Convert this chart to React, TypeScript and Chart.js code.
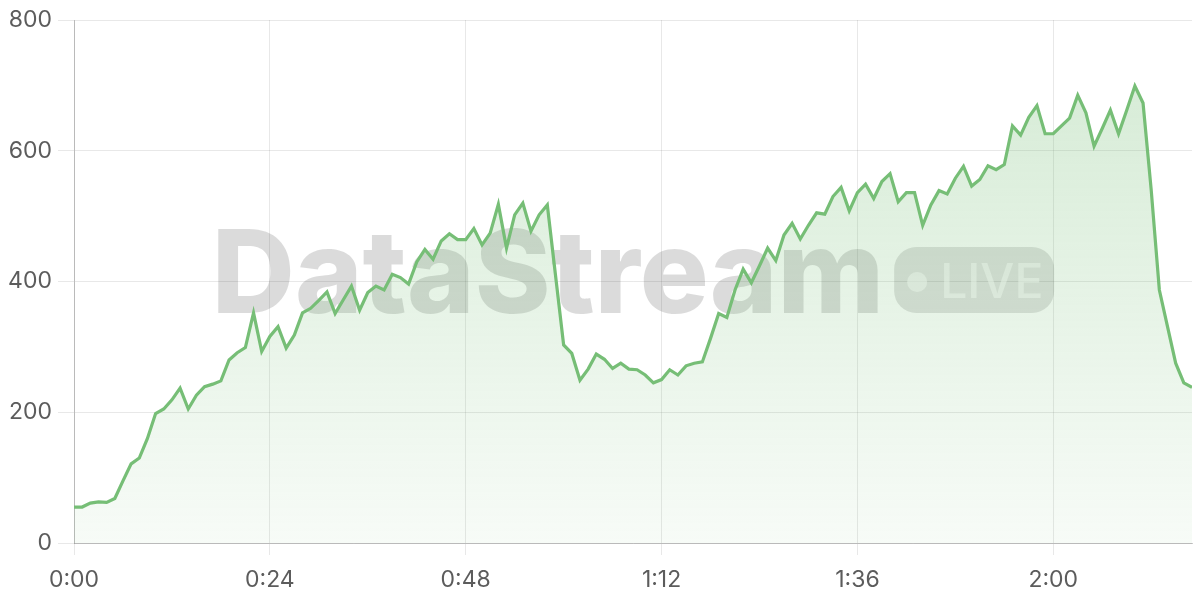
import React, { useEffect, useRef } from "react";
import { Chart, registerables } from "chart.js";

Chart.register(...registerables);

// Throughput values, one per minute from 0:00 to 2:17
const VALUES: number[] = [
  55, 55, 61, 63, 62, 68, 95, 121, 130, 160,
  198, 205, 219, 237, 205, 226, 239, 243, 248, 280,
  291, 299, 352, 293, 316, 331, 298, 318, 352, 359,
  371, 384, 351, 372, 393, 356, 383, 393, 387, 411,
  406, 396, 430, 449, 434, 462, 473, 464, 464, 481,
  456, 474, 518, 451, 502, 520, 477, 502, 517, 410,
  303, 290, 249, 266, 289, 281, 267, 275, 266, 265,
  257, 245, 250, 265, 257, 271, 275, 277, 313, 351,
  345, 387, 419, 398, 424, 451, 432, 471, 489, 465,
  486, 505, 503, 530, 544, 508, 536, 549, 527, 553,
  565, 522, 536, 536, 486, 517, 539, 534, 558, 576,
  546, 556, 577, 571, 579, 638, 624, 651, 669, 626,
  626, 638, 650, 685, 658, 607, 634, 662, 626, 662,
  699, 673, 540, 387, 331, 275, 245, 238,
];

const X_TICK_MINUTES: number[] = [0, 24, 48, 72, 96, 120];
const X_TICK_LABELS: string[] = ["0:00", "0:24", "0:48", "1:12", "1:36", "2:00"];
const Y_MIN = 0;
const Y_MAX = 800;
const Y_STEP = 200;

const WATERMARK_TEXT = "DataStream";
const BADGE_TEXT = "LIVE";

const LINE_COLOR = "rgb(118,190,118)";

const watermarkPlugin = {
  id: "watermark",
  beforeDatasetsDraw(chart: any) {
    const { ctx, chartArea } = chart;
    ctx.save();
    const cx = (chartArea.left + chartArea.right) / 2;
    const baseline = chartArea.top + 293;
    ctx.font = "800 115px Inter";
    ctx.textBaseline = "alphabetic";
    ctx.textAlign = "left";
    const tw = ctx.measureText(WATERMARK_TEXT).width;
    const gap = 10;
    const pillW = 160;
    const pillH = 66;
    const total = tw + gap + pillW;
    const x0 = cx - total / 2;
    ctx.fillStyle = "rgba(0,0,0,0.14)";
    ctx.fillText(WATERMARK_TEXT, x0, baseline);
    const px = x0 + tw + gap;
    ctx.beginPath();
    ctx.roundRect(px, baseline - pillH, pillW, pillH, 22);
    ctx.fillStyle = "rgba(0,0,0,0.12)";
    ctx.fill();
    ctx.fillStyle = "rgba(255,255,255,0.55)";
    ctx.beginPath();
    ctx.arc(px + 23, baseline - 31, 10, 0, Math.PI * 2);
    ctx.fill();
    ctx.font = "500 48px Inter";
    ctx.fillText(BADGE_TEXT, px + 46, baseline - 15);
    ctx.restore();
  },
};

export default function App() {
  const canvasRef = useRef<HTMLCanvasElement | null>(null);

  useEffect(() => {
    const canvas = canvasRef.current;
    if (!canvas) return;
    const points = VALUES.map((v, i) => ({ x: i, y: v }));
    const chart = new Chart(canvas, {
      type: "line",
      data: {
        datasets: [
          {
            data: points,
            borderColor: LINE_COLOR,
            borderWidth: 3.2,
            pointRadius: 0,
            tension: 0,
            fill: "origin",
            backgroundColor: (c: any) => {
              const area = c.chart.chartArea;
              if (!area) return "rgba(118,190,118,0.15)";
              const g = c.chart.ctx.createLinearGradient(0, area.top, 0, area.bottom);
              g.addColorStop(0, "rgba(118,190,118,0.32)");
              g.addColorStop(1, "rgba(118,190,118,0.06)");
              return g;
            },
          },
        ],
      },
      options: {
        responsive: false,
        animation: false,
        layout: { padding: { top: 20, right: 8, left: 0, bottom: 0 } },
        plugins: {
          legend: { display: false },
          tooltip: { enabled: false },
        },
        scales: {
          x: {
            type: "linear",
            min: 0,
            max: VALUES.length - 1,
            afterFit: (s: any) => {
              s.height = 57;
            },
            afterBuildTicks: (s: any) => {
              s.ticks = X_TICK_MINUTES.map((v) => ({ value: v }));
            },
            ticks: {
              includeBounds: false,
              autoSkip: false,
              maxRotation: 0,
              padding: 11,
              color: "#5c5c5c",
              font: { family: "Inter", size: 23 },
              callback: (v: any) => {
                const idx = X_TICK_MINUTES.indexOf(Number(v));
                return idx >= 0 ? X_TICK_LABELS[idx] : "";
              },
            },
            grid: { color: "rgba(0,0,0,0.09)", tickLength: 12 },
            border: { color: "rgba(0,0,0,0.2)" },
          },
          y: {
            min: Y_MIN,
            max: Y_MAX,
            afterFit: (s: any) => {
              s.width = 74;
            },
            ticks: {
              stepSize: Y_STEP,
              padding: 6,
              color: "#5c5c5c",
              font: { family: "Inter", size: 23 },
            },
            grid: { color: "rgba(0,0,0,0.09)", tickLength: 16 },
            border: { color: "rgba(0,0,0,0.2)" },
          },
        },
      },
      plugins: [watermarkPlugin],
    });
    return () => chart.destroy();
  }, []);

  return (
    <div style={{ position: "absolute", left: 0, top: 0, width: 1200, height: 600, background: "#fff" }}>
      <canvas ref={canvasRef} width={1200} height={600} style={{ display: "block" }} />
    </div>
  );
}
